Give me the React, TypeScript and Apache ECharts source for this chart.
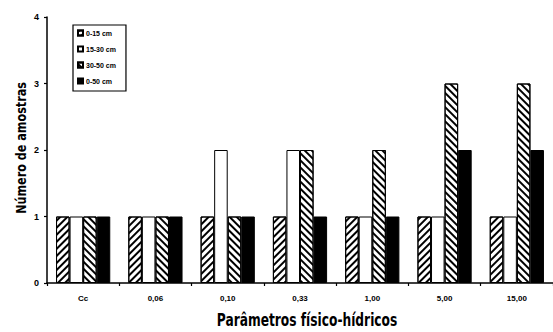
import React, { useEffect, useRef } from "react";
import * as echarts from "echarts";

const categories = ["Cc", "0,06", "0,10", "0,33", "1,00", "5,00", "15,00"];
const seriesNames = ["0-15 cm", "15-30 cm", "30-50 cm", "0-50 cm"];
const s0_15 = [1, 1, 1, 1, 1, 1, 1];
const s15_30 = [1, 1, 2, 2, 1, 1, 1];
const s30_50 = [1, 1, 1, 2, 2, 3, 3];
const s0_50 = [1, 1, 1, 1, 1, 2, 2];
const yTicks = [0, 1, 2, 3, 4];
const xTitle = "Parâmetros físico-hídricos";
const yTitle = "Número de amostras";

const sans = "'Liberation Sans', Arial, sans-serif";
const titleFont = "'DejaVu Sans', sans-serif";

export default function App() {
  const ref = useRef<HTMLDivElement>(null);
  useEffect(() => {
    if (!ref.current) return;
    const chart = echarts.init(ref.current, undefined, { renderer: "svg" });
    const hatch = (rot: number) => ({
      symbol: "rect",
      symbolSize: 1,
      dashArrayX: [1, 0],
      dashArrayY: [1.4, 2.4],
      rotation: rot,
      color: "#000",
      backgroundColor: "#fff",
    });
    const border = { borderColor: "#000", borderWidth: 1 };
    const data = [s0_15, s15_30, s30_50, s0_50];
    const styles: any[] = [
      { color: "#fff", decal: hatch(-Math.PI / 4), ...border },
      { color: "#fff", ...border },
      { color: "#fff", decal: hatch(Math.PI / 4), ...border },
      { color: "#000", ...border },
    ];
    chart.setOption({
      animation: false,
      grid: { left: 47, right: 0, top: 17, bottom: 49 },
      legend: {
        orient: "vertical",
        left: 73,
        top: 25,
        width: 55,
        padding: [4, 10, 6, 4],
        borderColor: "#000",
        borderWidth: 1.2,
        itemWidth: 5,
        itemHeight: 5,
        itemGap: 8,
        icon: "rect",
        data: seriesNames,
        textStyle: { fontFamily: sans, fontWeight: "bold", fontSize: 7, color: "#000000", padding: [0, 0, 0, -2], lineHeight: 8 },
      },
      graphic: [
        {
          type: "text",
          x: 307,
          y: 320,
          scaleX: 0.72,
          style: { text: xTitle, fontFamily: titleFont, fontWeight: "bold", fontSize: 17, fill: "#000", align: "center", verticalAlign: "middle" },
        },
        {
          type: "text",
          x: 21,
          y: 148,
          rotation: Math.PI / 2,
          scaleX: 0.8,
          style: { text: yTitle, fontFamily: titleFont, fontWeight: "bold", fontSize: 14, fill: "#000", align: "center", verticalAlign: "middle" },
        },
      ],
      xAxis: {
        type: "category",
        data: categories,
        axisLine: { lineStyle: { color: "#000", width: 1.5 } },
        axisTick: { show: true, length: 3, lineStyle: { color: "#000", width: 1.2 } },
        axisLabel: { fontFamily: sans, fontWeight: "bold", fontSize: 8, color: "#000", margin: 11 },
      },
      yAxis: {
        type: "value",
        min: yTicks[0],
        max: yTicks[yTicks.length - 1],
        interval: 1,
        axisLine: { show: true, lineStyle: { color: "#000", width: 1.5 } },
        axisTick: { show: true, length: 3, lineStyle: { color: "#000", width: 1.2 } },
        splitLine: { show: false },
        axisLabel: { fontFamily: sans, fontWeight: "bold", fontSize: 9, color: "#000", margin: 8 },
      },
      series: seriesNames.map((name, i) => ({
        name,
        type: "bar",
        data: data[i],
        barGap: "0%",
        barCategoryGap: "25%",
        itemStyle: styles[i],
        emphasis: { disabled: true },
      })),
    });
    return () => chart.dispose();
  }, []);
  return <div ref={ref} style={{ width: 553, height: 332, position: "absolute", left: 0, top: 0, background: "#fff" }} />;
}
